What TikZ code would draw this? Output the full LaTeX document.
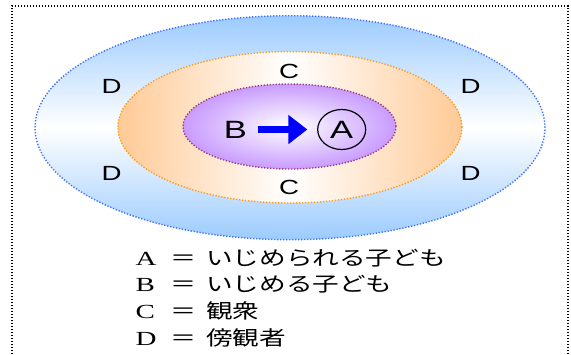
\documentclass[tikz,border=0pt]{standalone}
\usepackage{fontspec}
\usepackage{graphicx}
\setmainfont{Liberation Serif}
\setsansfont{Liberation Sans}
\newfontfamily\jp{Noto Sans CJK JP}
\usetikzlibrary{shapes.geometric,arrows.meta}
\definecolor{blueF}{HTML}{9CCBFF}
\definecolor{blueL}{HTML}{3F6FFF}
\definecolor{orangeF}{HTML}{FFCA96}
\definecolor{orangeL}{HTML}{FF9A1A}
\definecolor{purpF}{HTML}{C89BFF}
\definecolor{purpL}{HTML}{9A3A7A}
\definecolor{arrowB}{HTML}{0000FF}
\newcommand\hx[2]{\scalebox{#1}[1]{#2}}
\begin{document}
\begin{tikzpicture}[x=1pt,y=-1pt,
  dotline/.style={line width=1.4pt, dash pattern=on 1.3pt off 1.7pt},
  lab/.style={inner sep=0pt, font=\sffamily\fontsize{20.5}{24}\selectfont},
  biglab/.style={inner sep=0pt, font=\sffamily\fontsize{25}{30}\selectfont},
  legL/.style={inner sep=0pt, font=\rmfamily\fontsize{20}{24}\selectfont},
  legJ/.style={inner sep=0pt, font=\jp\fontsize{20}{24}\selectfont},
  bigarrow/.style={line width=7.4pt, arrowB, -{Triangle[length=19pt,width=28pt]}}
]
\useasboundingbox (0,0) rectangle (571,354);
% frame
\draw[dotline, black] (12,354) -- (12,6) -- (568,6) -- (568,354);
% ellipses
\path[draw=blueL, dotline, top color=blueF, bottom color=blueF, middle color=white]
  (290,127.7) ellipse [x radius=255pt, y radius=112pt];
\path[draw=orangeL, dotline, left color=orangeF, right color=orangeF, middle color=white]
  (289.9,127.3) ellipse [x radius=172pt, y radius=75.7pt];
\path[draw=purpL, dotline, inner color=white, outer color=purpF]
  (289.5,126.5) ellipse [x radius=106.5pt, y radius=42.5pt];
% labels
\node[lab] (c1) at (289,71.5) {\hx{1.35}{C}};
\node[lab] (c2) at (289,187) {\hx{1.35}{C}};
\node[lab] (d1) at (111.7,86) {\hx{1.35}{D}};
\node[lab] (d2) at (470.5,86) {\hx{1.35}{D}};
\node[lab] (d3) at (111.7,173) {\hx{1.35}{D}};
\node[lab] (d4) at (470.5,173) {\hx{1.35}{D}};
\node[biglab] (B) at (235.3,129.5) {\hx{1.38}{B}};
\node[biglab, ellipse, draw=black, line width=1.2pt, minimum width=48pt, minimum height=40pt] (A) at (341.7,129.5) {\hx{1.38}{A}};
\draw[bigarrow, shorten <=10.5pt, shorten >=9.7pt] (B.east) -- (B.east -| A.west);
% legend
\node[legL, anchor=base west] (la) at (135.5,265.7) {\hx{1.45}{A}};
\node[legJ, anchor=base] (ea) at (183.8,265.7) {\hx{1.3}{＝}};
\node[legJ, anchor=base west] (ja) at (206,265.7) {\hx{1.33}{いじめられる子ども}};
\node[legL, anchor=base west] (lb) at (135.5,291.7) {\hx{1.45}{B}};
\node[legJ, anchor=base] (eb) at (183.8,291.7) {\hx{1.3}{＝}};
\node[legJ, anchor=base west] (jb) at (206,291.7) {\hx{1.33}{いじめる子ども}};
\node[legL, anchor=base west] (lc) at (135.5,318.5) {\hx{1.45}{C}};
\node[legJ, anchor=base] (ec) at (183.8,318.5) {\hx{1.3}{＝}};
\node[legJ, anchor=base west] (jc) at (206,318.5) {\hx{1.33}{観衆}};
\node[legL, anchor=base west] (ld) at (135.5,345) {\hx{1.45}{D}};
\node[legJ, anchor=base] (ed) at (183.8,345) {\hx{1.3}{＝}};
\node[legJ, anchor=base west] (jd) at (206,345) {\hx{1.33}{傍観者}};
\end{tikzpicture}
\end{document}
